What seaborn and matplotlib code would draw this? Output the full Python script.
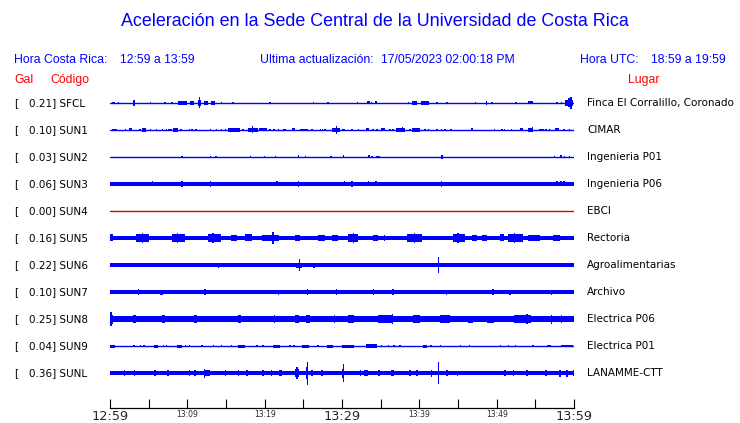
import matplotlib
matplotlib.use("Agg")
import matplotlib.pyplot as plt
import matplotlib.transforms as mtransforms
import seaborn as sns
import pandas as pd

# station table
codes = ["SFCL", "SUN1", "SUN2", "SUN3", "SUN4", "SUN5", "SUN6", "SUN7", "SUN8", "SUN9", "SUNL"]
gal = [0.21, 0.10, 0.03, 0.06, 0.00, 0.16, 0.22, 0.10, 0.25, 0.04, 0.36]
places = ["Finca El Corralillo, Coronado", "CIMAR", "Ingenieria P01", "Ingenieria P06", "EBCI",
          "Rectoria", "Agroalimentarias", "Archivo", "Electrica P06", "Electrica P01", "LANAMME-CTT"]
# half-width of the quiet part of each trace (screen px)
base_amp = [0.5, 0.5, 0.5, 1.8, 0.5, 2.4, 1.7, 1.8, 2.9, 0.5, 2.2]
trace_color = ["blue"] * 4 + ["#dd0000"] + ["blue"] * 6

# bursts / spikes: (start minute, end minute, half-amplitude px)
sfcl_ev = [(0.2, 0.6, 1.3), (1.1, 1.1, 1), (3.1, 3.1, 2.7), (5.2, 5.2, 1.3), (7.1, 7.1, 1), (8.0, 8.0, 1),
           (8.75, 9.9, 2.3), (10.3, 10.8, 2), (11.6, 11.6, 5.5), (11.4, 11.8, 3), (12.1, 12.7, 1.7),
           (13.1, 13.6, 1.7), (14.4, 14.4, 1.3), (15.9, 15.9, 1.3), (20.7, 20.7, 1), (26.3, 26.3, 1.3),
           (28.2, 28.2, 1.3), (32.0, 32.0, 1), (33.2, 33.6, 1.5), (33.8, 33.8, 1.3), (34.4, 34.4, 1.5),
           (38.6, 38.6, 1), (39.1, 39.7, 1.7), (40.2, 41.2, 1.7), (42.3, 42.3, 1), (43.6, 43.6, 1.3),
           (47.3, 47.3, 1), (48.6, 48.8, 1.7), (49.4, 49.4, 1), (52.5, 52.5, 1.3), (54.1, 54.7, 1.5),
           (57.8, 57.8, 1.3), (58.4, 58.4, 1), (58.8, 59.9, 3), (59.2, 59.8, 4.5), (59.6, 59.6, 6)]
sun1_ev = [(0.3, 0.9, 1.3), (2.0, 2.0, 1), (2.5, 2.8, 1.5), (3.9, 3.9, 1), (4.2, 4.7, 2.2), (5.2, 5.2, 1.3),
           (6.0, 6.0, 1), (6.8, 6.8, 1), (7.3, 7.3, 1.3), (7.5, 8.0, 1.3), (8.2, 8.8, 1.7), (9.2, 9.2, 1),
           (10.3, 10.3, 1), (10.6, 10.6, 1), (11.1, 11.1, 1.3), (13.0, 13.0, 1.3), (13.8, 13.8, 1.3),
           (14.4, 14.4, 1), (14.9, 14.9, 1), (15.3, 16.8, 1.7), (17.2, 17.2, 1), (17.9, 19.1, 1.8),
           (18.4, 18.4, 3.5), (19.3, 20.3, 1.5), (20.7, 20.7, 1), (21.2, 21.2, 1.3), (21.8, 21.8, 1),
           (22.4, 22.8, 1.3), (23.5, 23.9, 1.5), (24.6, 25.6, 1.3), (26.1, 26.1, 1), (27.2, 27.2, 1),
           (27.5, 27.5, 1.3), (27.8, 27.8, 1), (28.7, 29.7, 2.3), (29.3, 29.3, 4), (30.0, 30.4, 1.3),
           (31.3, 31.3, 1), (32.1, 32.1, 1), (33.1, 33.5, 1.5), (34.0, 34.0, 1), (34.5, 34.5, 1),
           (35.1, 35.6, 1.5), (36.2, 36.2, 1), (36.6, 36.6, 1.3), (37.0, 38.1, 1.7), (37.8, 37.8, 2.5),
           (38.8, 38.8, 1), (39.1, 40.1, 1.7), (40.6, 40.9, 1.3), (41.2, 41.2, 1), (42.3, 42.3, 1),
           (42.9, 42.9, 1), (43.3, 43.3, 1), (44.1, 44.1, 1), (46.7, 46.9, 1.5), (49.7, 49.7, 1),
           (50.7, 50.7, 1), (51.0, 51.0, 1), (51.9, 51.9, 1), (53.0, 53.4, 1.5), (54.1, 54.7, 1.7),
           (54.6, 54.6, 2.5), (55.5, 56.1, 1.3), (56.4, 56.4, 1), (56.8, 56.8, 1), (57.5, 58.1, 1.5),
           (58.7, 58.7, 1), (59.4, 59.4, 1)]
sun2_ev = [(9.3, 9.3, 1.3), (13.0, 13.0, 1.3), (13.7, 13.7, 1), (18.2, 18.2, 1), (20.0, 20.0, 1.3),
           (21.4, 21.4, 1), (24.3, 24.5, 1.5), (25.3, 25.3, 1.2), (28.6, 28.6, 1), (30.1, 30.3, 1.5),
           (33.4, 33.6, 1.5), (33.9, 33.9, 1), (34.5, 34.5, 1), (34.8, 34.8, 1), (42.9, 43.0, 1.7),
           (57.5, 57.5, 1.3), (58.2, 58.4, 1.5), (58.8, 58.8, 1.2), (59.4, 59.4, 1)]
sun3_ev = [(5.5, 5.5, 2.5), (9.3, 9.3, 3), (13.0, 13.0, 2.7), (21.6, 21.6, 2.5), (24.4, 24.4, 3),
           (30.3, 30.3, 2.5), (31.3, 31.3, 2.7), (33.4, 33.4, 2.5), (33.7, 33.7, 2.4), (34.4, 34.4, 2.5),
           (42.9, 42.9, 2.7), (57.8, 57.8, 2.5), (58.3, 58.3, 2.5), (58.7, 58.7, 2.5)]
sun4_ev = []
sun5_ev = [(0.0, 0.4, 3.5), (3.4, 5.0, 3.6), (4.2, 4.2, 5), (8.0, 9.7, 3.6), (8.7, 8.7, 5),
           (12.7, 14.4, 3.6), (13.3, 13.3, 5), (15.7, 16.4, 3.3), (17.5, 18.3, 3.5), (19.6, 21.8, 3.4),
           (21.1, 21.1, 6), (23.9, 24.6, 3.3), (26.9, 27.8, 3.3), (28.7, 29.5, 3.3), (30.8, 32.1, 3.6),
           (31.5, 31.5, 5), (34.0, 34.7, 3.3), (35.4, 35.6, 3.2), (38.4, 40.3, 3.6), (39.4, 39.4, 5),
           (44.4, 45.9, 3.7), (45.0, 45.0, 5.3), (46.8, 47.4, 3.3), (48.1, 48.7, 3.3), (50.4, 50.9, 3.5),
           (51.5, 53.4, 3.6), (52.3, 52.3, 5), (54.1, 55.6, 3.2), (57.3, 58.2, 3.2)]
sun6_ev = [(4.1, 4.1, 2.2), (14.0, 14.0, 2.5), (18.0, 18.0, 2.2), (24.1, 24.8, 2.5), (24.5, 24.5, 6),
           (26.2, 26.5, 2.5), (31.5, 31.5, 2.3), (39.9, 39.9, 2.2), (42.5, 42.5, 8), (56.8, 56.8, 2.2),
           (59.7, 59.9, 2.3)]
sun7_ev = [(0.0, 4.0, 2.0), (3.7, 3.7, 2.7), (6.5, 6.9, 2.5), (12.3, 12.3, 2.7), (16.4, 16.4, 2.3),
           (20.3, 20.3, 2.3), (21.8, 21.8, 2.5), (23.9, 23.9, 2.3), (25.5, 25.5, 2.7), (29.3, 29.3, 2.7),
           (34.1, 34.1, 3), (36.6, 36.6, 3), (40.1, 40.1, 2.3), (43.5, 43.5, 2.5), (49.5, 49.5, 2.7),
           (51.7, 51.7, 2.5), (57.1, 57.1, 2.5)]
sun8_ev = [(0.0, 0.4, 4.5), (0.15, 0.15, 7), (3.0, 3.4, 4), (6.7, 7.1, 3.7), (10.8, 11.2, 3.6),
           (16.6, 17.0, 4.3), (21.3, 21.3, 4), (23.9, 24.4, 3.7), (25.4, 25.9, 4.3), (29.0, 29.0, 3.6),
           (30.8, 31.5, 3.9), (34.7, 36.6, 3.6), (36.5, 36.5, 5), (39.2, 40.1, 3.6), (42.7, 44.0, 3.6),
           (46.3, 47.0, 3.5), (48.7, 49.6, 3.5), (52.2, 54.5, 3.6), (53.9, 53.9, 5), (57.1, 57.1, 4.5),
           (58.4, 58.4, 4)]
sun9_ev = [(0.0, 0.6, 1.5), (3.0, 3.2, 1.3), (3.9, 4.0, 1.3), (4.4, 4.4, 1.2), (5.7, 6.2, 1.5),
           (6.9, 6.9, 1.2), (7.3, 7.3, 1.2), (8.6, 9.3, 1.5), (9.8, 9.8, 1.2), (10.3, 10.3, 1.2),
           (11.9, 11.9, 1.2), (13.4, 13.4, 1.2), (14.4, 14.4, 1.2), (15.7, 15.7, 1.2), (16.6, 17.5, 1.5),
           (19.0, 19.0, 1.2), (19.8, 19.8, 1.2), (21.1, 22.0, 1.5), (23.3, 23.3, 1.2), (23.8, 23.8, 1.2),
           (24.8, 25.7, 1.5), (26.9, 26.9, 1.2), (28.0, 28.9, 1.5), (30.0, 31.5, 1.5), (33.1, 34.5, 1.7),
           (35.1, 35.1, 1.2), (36.0, 36.0, 1.2), (36.7, 36.7, 1.2), (37.5, 37.5, 1.2), (40.5, 41.0, 1.5),
           (41.5, 41.5, 1.2), (42.7, 42.7, 1.2), (45.3, 45.3, 1.2), (46.5, 46.5, 1.2), (50.5, 50.5, 1.2),
           (51.5, 51.5, 1.2), (52.4, 52.4, 1.2), (54.7, 54.7, 1.2), (56.5, 57.0, 1.3), (58.3, 59.9, 1.3)]
sunl_ev = [(1.9, 1.9, 2.7), (3.2, 3.2, 2.7), (5.8, 5.8, 2.7), (7.5, 7.5, 3), (10.3, 10.3, 3),
           (11.0, 11.0, 2.7), (12.1, 12.9, 3.2), (12.2, 12.2, 4.5), (14.9, 14.9, 2.7), (16.6, 16.6, 2.7),
           (17.7, 17.7, 2.7), (19.8, 19.8, 3), (20.9, 20.9, 2.7), (21.8, 22.2, 3.3), (23.9, 24.4, 3.6),
           (24.2, 24.2, 6), (25.4, 25.6, 6), (25.5, 25.5, 11.5), (26.1, 26.1, 3), (27.4, 27.4, 2.7),
           (30.0, 30.3, 4.5), (30.2, 30.2, 9), (32.4, 32.4, 3), (32.8, 33.4, 3.3), (34.8, 34.8, 2.7),
           (36.4, 36.7, 3.3), (38.8, 38.8, 2.7), (39.7, 39.7, 2.7), (41.6, 41.6, 3.5), (42.5, 42.5, 11.3),
           (43.6, 43.6, 2.7), (44.9, 44.9, 2.5), (51.1, 51.1, 3), (52.2, 52.2, 2.7), (53.9, 53.9, 2.7),
           (56.4, 56.4, 2.7), (58.2, 58.2, 3.5), (59.1, 59.1, 3.5), (59.9, 59.9, 2.7)]
events = [sfcl_ev, sun1_ev, sun2_ev, sun3_ev, sun4_ev, sun5_ev, sun6_ev, sun7_ev, sun8_ev, sun9_ev, sunl_ev]

tick_minutes = list(range(0, 61, 5))
tick_labels = ["12:59", "", "13:09", "", "13:19", "", "13:29", "", "13:39", "", "13:49", "", "13:59"]
big_ticks = ["12:59", "13:29", "13:59"]

# layout (figure px)
W, H = 740, 423
ROW_PX = 27.0
PX_MIN = 60 / 464.0

sns.set_theme(style="white")
plt.rcParams["font.family"] = ["DejaVu Sans"]

fig = plt.figure(figsize=(W / 100, H / 100), dpi=100)
ax = fig.add_axes([110 / W, 1 - 408 / H, 464 / W, 318 / H])
ax.set_xlim(0, 60)
ax.set_ylim((408 - 103) / ROW_PX, (90 - 103) / ROW_PX)

for i, code in enumerate(codes):
    col = trace_color[i]
    b = base_amp[i]
    if b <= 0.6:
        base = pd.DataFrame({"t": [0, 60], "y": [i, i]})
        sns.lineplot(data=base, x="t", y="y", ax=ax, color=col, lw=1.0, legend=False)
    else:
        ax.bar(30, 2 * b / ROW_PX, width=60, bottom=i - b / ROW_PX, color=col, lw=0)
    for t0, t1, a in events[i]:
        w = max(t1 - t0, 1.4 * PX_MIN)
        ax.bar((t0 + t1) / 2, 2 * a / ROW_PX, width=w, bottom=i - a / ROW_PX, color=col, lw=0)

ax.set_xlabel("")
ax.set_ylabel("")
ax.set_yticks([])
for s in ["top", "left", "right"]:
    ax.spines[s].set_visible(False)
ax.spines["bottom"].set_color("black")
ax.spines["bottom"].set_linewidth(0.9)
ax.set_xticks(tick_minutes)
ax.set_xticklabels(tick_labels)
ax.tick_params(axis="x", direction="in", length=6.5, width=0.8, color="black", pad=1.5, bottom=True)
for lbl in ax.get_xticklabels():
    if lbl.get_text() in big_ticks:
        lbl.set_fontsize(9.3)
    else:
        lbl.set_fontsize(5.5)

# station labels
tr = mtransforms.blended_transform_factory(fig.transFigure, ax.transData)
for i, code in enumerate(codes):
    ax.text(14 / W, i, "[", transform=tr, fontsize=7.5, va="center", ha="left", color="black")
    ax.text(29 / W, i, f"{gal[i]:.2f}] {code}", transform=tr, fontsize=7.5, va="center", ha="left", color="black")
    ax.text(587 / W, i, places[i], transform=tr, fontsize=7.5, va="center", ha="left", color="black")

# header
hfont = "Liberation Sans"
fig.text(375 / W, 1 - 22 / H, "Aceleración en la Sede Central de la Universidad de Costa Rica",
         ha="center", va="center", color="blue", fontsize=12.9, family=hfont)
fig.text(14 / W, 1 - 60 / H, "Hora Costa Rica:", ha="left", va="center", color="blue", fontsize=8.8, family=hfont)
fig.text(120 / W, 1 - 60 / H, "12:59 a 13:59", ha="left", va="center", color="blue", fontsize=8.8, family=hfont)
fig.text(260 / W, 1 - 60 / H, "Ultima actualización:", ha="left", va="center",
         color="blue", fontsize=8.8, family=hfont)
fig.text(381 / W, 1 - 60 / H, "17/05/2023 02:00:18 PM", ha="left", va="center",
         color="blue", fontsize=8.8, family=hfont)
fig.text(580 / W, 1 - 60 / H, "Hora UTC:", ha="left", va="center", color="blue", fontsize=8.8, family=hfont)
fig.text(651 / W, 1 - 60 / H, "18:59 a 19:59", ha="left", va="center", color="blue", fontsize=8.8, family=hfont)
fig.text(14 / W, 1 - 80 / H, "Gal", ha="left", va="center", color="red", fontsize=8.8, family=hfont)
fig.text(50 / W, 1 - 80 / H, "Código", ha="left", va="center", color="red", fontsize=8.8, family=hfont)
fig.text(628 / W, 1 - 80 / H, "Lugar", ha="left", va="center", color="red", fontsize=8.8, family=hfont)

fig.savefig("out.png", dpi=100, facecolor="white")
